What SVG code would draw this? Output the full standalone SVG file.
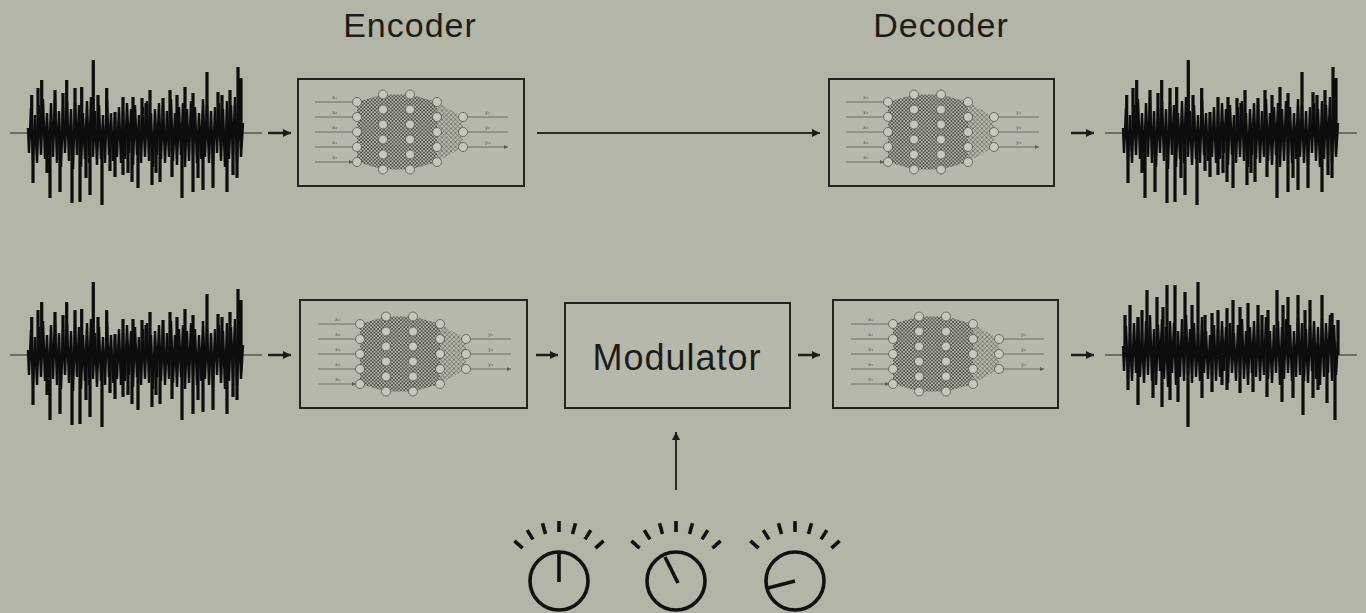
<svg xmlns="http://www.w3.org/2000/svg" xmlns:xlink="http://www.w3.org/1999/xlink" width="1366" height="613" viewBox="0 0 1366 613">
<style>
.title{font-family:"Liberation Sans","DejaVu Sans",sans-serif;fill:#1c1c1a;letter-spacing:1px}
.box{fill:#b6b8ab;stroke:#24241f;stroke-width:2}
.base{stroke:#55574e;stroke-width:1.5;fill:none}
.arr{stroke:#1e1e1a;stroke-width:2.5;fill:none;marker-end:url(#ah)}
.arrl{stroke:#2a2b25;stroke-width:2;fill:none;marker-end:url(#ah)}
.spk{stroke:#0d0d0d;stroke-width:3.2;fill:none}
.zig{stroke:#0d0d0d;stroke-width:2.4;fill:none;stroke-linejoin:miter}
.knob{stroke:#111;stroke-width:3.6;fill:none;stroke-linecap:butt}
.node{fill:#c6c8bc;stroke:#55574e;stroke-width:0.8}
.nlab{font-family:"DejaVu Sans",sans-serif;font-size:5px;fill:#55574e}
.io{stroke:#5c5e55;stroke-width:0.8}
</style>
<defs>
<marker id="ah" viewBox="0 0 10 10" refX="10" refY="5" markerWidth="8" markerHeight="8" markerUnits="userSpaceOnUse" orient="auto"><path d="M0,0L10,5L0,10z" fill="#1a1a1a"/></marker>
<marker id="ahs" viewBox="0 0 10 10" refX="10" refY="5" markerWidth="4" markerHeight="4" markerUnits="userSpaceOnUse" orient="auto"><path d="M0,0L10,5L0,10z" fill="#5c5e55"/></marker>
<pattern id="mesh" width="3.5" height="3.5" patternUnits="userSpaceOnUse"><path d="M0,0L3.5,3.5M3.5,0L0,3.5" stroke="#33352f" stroke-width="0.7"/></pattern>
<pattern id="meshl" width="4.5" height="4.5" patternUnits="userSpaceOnUse"><path d="M0,0L4.5,4.5M4.5,0L0,4.5" stroke="#54564d" stroke-width="0.6"/></pattern>
<g id="net">
<polygon points="59,23 85,15.5 85,90.5 59,83" fill="url(#mesh)"/>
<rect x="85" y="15.5" width="27" height="75" fill="url(#mesh)"/>
<polygon points="112,15.5 139,23 139,83 112,90.5" fill="url(#mesh)"/>
<polygon points="139,23 165,38 165,68 139,83" fill="url(#meshl)"/>
<path class="io" d="M17 23H55M17 38H55M17 53H55M17 68H55M17 83H55" marker-end="url(#ahs)"/>
<path class="io" d="M169 38H210M169 53H210M169 68H210" marker-end="url(#ahs)"/>
<text class="nlab" x="34" y="20">x₁</text><text class="nlab" x="34" y="35">x₂</text><text class="nlab" x="34" y="50">x₃</text><text class="nlab" x="34" y="65">x₄</text><text class="nlab" x="34" y="80">x₅</text>
<text class="nlab" x="187" y="35">y₁</text><text class="nlab" x="187" y="50">y₂</text><text class="nlab" x="187" y="65">y₃</text>
<g class="node">
<circle cx="59" cy="23" r="4.5"/><circle cx="59" cy="38" r="4.5"/><circle cx="59" cy="53" r="4.5"/><circle cx="59" cy="68" r="4.5"/><circle cx="59" cy="83" r="4.5"/>
<circle cx="85" cy="15.5" r="4.5"/><circle cx="85" cy="30.5" r="4.5"/><circle cx="85" cy="45.5" r="4.5"/><circle cx="85" cy="60.5" r="4.5"/><circle cx="85" cy="75.5" r="4.5"/><circle cx="85" cy="90.5" r="4.5"/>
<circle cx="112" cy="15.5" r="4.5"/><circle cx="112" cy="30.5" r="4.5"/><circle cx="112" cy="45.5" r="4.5"/><circle cx="112" cy="60.5" r="4.5"/><circle cx="112" cy="75.5" r="4.5"/><circle cx="112" cy="90.5" r="4.5"/>
<circle cx="139" cy="23" r="4.5"/><circle cx="139" cy="38" r="4.5"/><circle cx="139" cy="53" r="4.5"/><circle cx="139" cy="68" r="4.5"/><circle cx="139" cy="83" r="4.5"/>
<circle cx="165" cy="38" r="4.5"/><circle cx="165" cy="53" r="4.5"/><circle cx="165" cy="68" r="4.5"/>
</g>
</g>
<polyline id="zig" class="zig" points="28,-5 29,20 31,-25 33,28 35,-18 37,30 39,-28 41,22 43,-34 45,26 47,-20 49,32 51,-30 53,24 55,-36 57,30 59,-22 61,34 63,-26 65,20 67,-32 69,28 71,-24 73,36 75,-30 77,22 79,-28 81,34 83,-20 85,26 87,-32 89,30 91,-36 93,24 95,-22 97,32 99,-28 101,26 103,-18 105,30 107,-34 109,22 111,-20 113,28 115,-16 117,24 119,-26 121,30 123,-22 125,26 127,-30 129,20 131,-24 133,32 135,-28 137,22 139,-18 141,30 143,-26 145,24 147,-32 149,28 151,-20 153,34 155,-24 157,22 159,-30 161,26 163,-28 165,30 167,-22 169,24 171,-34 173,28 175,-20 177,32 179,-26 181,22 183,-30 185,34 187,-24 189,28 191,-32 193,22 195,-26 197,30 199,-20 201,26 203,-34 205,24 207,-28 209,30 211,-22 213,32 215,-26 217,20 219,-30 221,28 223,-24 225,34 227,-32 229,26 231,-28 233,22 235,-36 237,30 239,-26 241,24 243,-10"/>
<g id="wave">
<path class="base" d="M10 0H28M243 0H262"/>
<use xlink:href="#zig" href="#zig"/>
<path class="spk" d="M31.7 0V-38M41.7 0V-53M55 0V-43M66.7 0V-53M75 0V-45M81.7 0V-46M93.3 0V-73M106.7 0V-45M115 0V-21M123 0V-36M133 0V-36M142 0V-35M150 0V-43M163 0V-35M170 0V-43M185 0V-46M193 0V-40M207 0V-61M218 0V-41M230 0V-43M238 0V-66M33 0V50M50 0V65M60 0V59M72 0V70M80 0V69M90 0V62M102 0V72M115 0V44M123 0V42M132 0V49M138 0V55M152 0V52M160 0V49M172 0V44M182 0V65M193 0V59M203 0V57M213 0V55M227 0V59M237 0V45M38 0V-45M47 0V40M63 0V-40M86 0V45M98 0V-38M110 0V38M128 0V40M146 0V-30M156 0V40M177 0V-38M198 0V45M222 0V-38M233 0V42M241 0V-55"/>
</g>
<g id="ticks"><path class="knob" d="M0 -49V-60M13.5 -47.1L16.5 -57.7M26 -41.6L31.8 -50.9M36.4 -32.8L44.6 -40.1M-13.5 -47.1L-16.5 -57.7M-26 -41.6L-31.8 -50.9M-36.4 -32.8L-44.6 -40.1"/><circle class="knob" cx="0" cy="0" r="29"/></g>
</defs>
<rect width="1366" height="613" fill="#b3b5a7"/>

<g id="label-encoder"><text class="title" x="410" y="37" font-size="34" text-anchor="middle">Encoder</text></g>
<g id="label-decoder"><text class="title" x="941" y="37" font-size="34" text-anchor="middle">Decoder</text></g>

<g id="wave-in-top"><use xlink:href="#wave" href="#wave" transform="translate(0,133)"/></g>
<g id="wave-out-top"><use xlink:href="#wave" href="#wave" transform="translate(1095,133)"/></g>
<g id="wave-in-bottom"><use xlink:href="#wave" href="#wave" transform="translate(0,355)"/></g>
<g id="wave-out-bottom" transform="translate(0,355)">
<path class="base" d="M1105 0H1123M1338 0H1357"/>
<use xlink:href="#zig" href="#zig" transform="translate(1095,-4)"/>
<path class="spk" d="M1125 0V-40M1130 0V-50M1138 0V-38M1147 0V-65M1157 0V-58M1167 0V-70M1175 0V-70M1185 0V-63M1198 0V-73M1212 0V-42M1218 0V-45M1227 0V-47M1233 0V-55M1240 0V-48M1248 0V-52M1258 0V-50M1268 0V-45M1277 0V-65M1288 0V-58M1298 0V-60M1310 0V-55M1322 0V-60M1332 0V-42M1128 0V35M1138 0V50M1153 0V43M1162 0V52M1170 0V45M1178 0V47M1188 0V72M1202 0V43M1212 0V37M1227 0V35M1240 0V38M1253 0V37M1267 0V42M1282 0V47M1293 0V43M1303 0V60M1313 0V43M1327 0V48M1335 0V65M1142 0V-45M1163 0V-48M1192 0V-50M1205 0V-40M1222 0V30M1262 0V-40M1283 0V-50M1305 0V-45M1318 0V35M1338 0V-35"/>
</g>

<g id="encoder-top"><rect class="box" x="298" y="79" width="226" height="107"/><use xlink:href="#net" href="#net" transform="translate(298,79)"/></g>
<g id="decoder-top"><rect class="box" x="829" y="79" width="225" height="107"/><use xlink:href="#net" href="#net" transform="translate(829,79)"/></g>
<g id="encoder-bottom"><rect class="box" x="300" y="300" width="227" height="108"/><use xlink:href="#net" href="#net" transform="translate(301,301)"/></g>
<g id="modulator"><rect class="box" x="565" y="303" width="225" height="105"/><text class="title" x="677" y="370" font-size="36" text-anchor="middle">Modulator</text></g>
<g id="decoder-bottom"><rect class="box" x="833" y="300" width="225" height="108"/><use xlink:href="#net" href="#net" transform="translate(834,301)"/></g>

<g id="connectors">
<line class="arr" x1="268" y1="133" x2="291" y2="133"/>
<line class="arrl" x1="537" y1="133" x2="820" y2="133"/>
<line class="arr" x1="1071" y1="133" x2="1094" y2="133"/>
<line class="arr" x1="268" y1="355" x2="291" y2="355"/>
<line class="arr" x1="536" y1="355" x2="558" y2="355"/>
<line class="arr" x1="798" y1="355" x2="820" y2="355"/>
<line class="arr" x1="1071" y1="355" x2="1094" y2="355"/>
<line class="arrl" x1="676" y1="490" x2="676" y2="432"/>
</g>

<g id="knob-1"><use xlink:href="#ticks" href="#ticks" transform="translate(559,581)"/><line class="knob" x1="559" y1="582" x2="559" y2="553"/></g>
<g id="knob-2"><use xlink:href="#ticks" href="#ticks" transform="translate(676,581)"/><line class="knob" x1="665" y1="557" x2="678" y2="583"/></g>
<g id="knob-3"><use xlink:href="#ticks" href="#ticks" transform="translate(795,581)"/><line class="knob" x1="768" y1="588" x2="795" y2="581"/></g>
</svg>
